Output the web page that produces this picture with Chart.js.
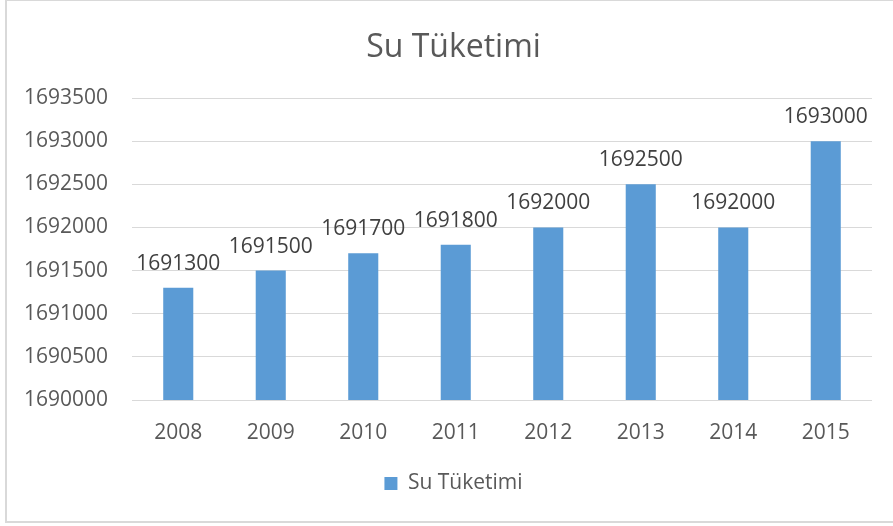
<!DOCTYPE html>
<html>
<head>
<meta charset="utf-8">
<script src="https://cdn.jsdelivr.net/npm/chart.js@4.4.0/dist/chart.umd.min.js"></script>
<style>
  html, body { margin: 0; padding: 0; background: #fff; overflow: hidden; }
  body { width: 893px; height: 526px; position: relative; }
  #frame { position: absolute; left: 5px; top: -1px; width: 900px; height: 524px; border: 2px solid #d9d9d9; box-sizing: border-box; }
  #wrap { position: absolute; left: 7px; top: 0; width: 893px; height: 526px; }
</style>
</head>
<body>
<div id="frame"></div>
<div id="wrap"><canvas id="waterChart" width="893" height="526"></canvas></div>
<script>
const years = ['2008', '2009', '2010', '2011', '2012', '2013', '2014', '2015'];
const consumption = [1691300, 1691500, 1691700, 1691800, 1692000, 1692500, 1692000, 1693000];
const seriesName = 'Su Tüketimi';
const yMin = 1690000;
const yMax = 1693500;
const yStep = 500;

const FONT = "'Open Sans', 'Noto Sans', sans-serif";

// draws the value above each bar (no datalabels plugin offline)
const valueLabels = {
  id: 'valueLabels',
  afterDatasetsDraw(chart) {
    const ctx = chart.ctx;
    const meta = chart.getDatasetMeta(0);
    ctx.save();
    ctx.font = '21px ' + FONT;
    ctx.fillStyle = '#404040';
    ctx.textAlign = 'center';
    ctx.textBaseline = 'middle';
    meta.data.forEach((bar, i) => {
      ctx.fillText(String(consumption[i]), bar.x, bar.y - 24);
    });
    ctx.restore();
  }
};

new Chart(document.getElementById('waterChart'), {
  type: 'bar',
  data: {
    labels: years,
    datasets: [{
      label: seriesName,
      data: consumption,
      backgroundColor: '#5b9bd5',
      borderWidth: 0,
      barPercentage: 0.325,
      categoryPercentage: 1
    }]
  },
  options: {
    responsive: false,
    animation: false,
    layout: { padding: { left: 0, right: 0, top: 0, bottom: 22 } },
    plugins: {
      title: {
        display: true,
        text: seriesName,
        color: '#595959',
        font: { family: FONT, size: 32, weight: 'normal', lineHeight: 1.2 },
        padding: { top: 29, bottom: 30.6 }
      },
      legend: {
        position: 'bottom',
        labels: {
          color: '#595959',
          font: { family: FONT, size: 21 },
          boxWidth: 13,
          boxHeight: 13,
          padding: 10
        }
      },
      tooltip: { enabled: false }
    },
    scales: {
      x: {
        grid: { display: false },
        border: { display: false },
        ticks: { color: '#595959', font: { family: FONT, size: 21 }, padding: 12 },
        afterFit: s => { s.height = 63; }
      },
      y: {
        min: yMin,
        max: yMax,
        grid: { color: '#d9d9d9', lineWidth: 1, drawTicks: false },
        border: { display: false },
        ticks: {
          stepSize: yStep,
          color: '#595959',
          font: { family: FONT, size: 21 },
          padding: 24,
          callback: v => String(v)
        },
        afterFit: s => { s.width = 125; }
      },
      // empty right-hand margin so title and legend stay centred on the frame
      yRight: {
        position: 'right',
        grid: { display: false },
        border: { display: false },
        ticks: { display: false },
        afterFit: s => { s.width = 28; }
      }
    }
  },
  plugins: [valueLabels]
});
</script>
</body>
</html>
